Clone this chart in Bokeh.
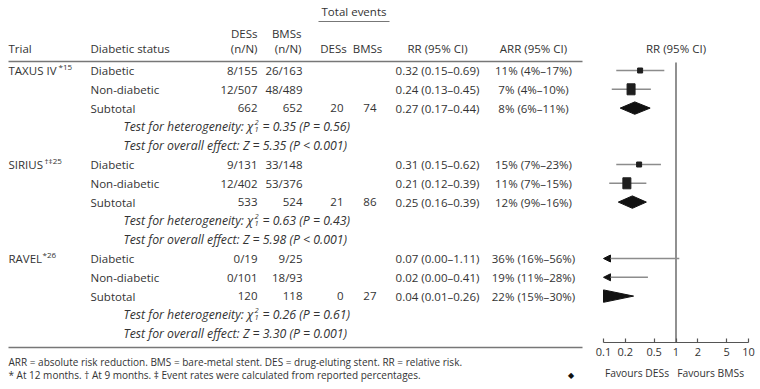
from bokeh.plotting import figure
from bokeh.layouts import row
from bokeh.models import Range1d, ColumnDataSource, FixedTicker, CustomJSTickFormatter, Arrow, NormalHead
from bokeh.embed import file_html
from bokeh.resources import INLINE
from bokeh.core.properties import value
import math

# ---------------- data ----------------
trials = ["TAXUS IV", "SIRIUS", "RAVEL"]
trial_refs = ["*15", "\u2020\u202125", "*26"]
status = ["Diabetic", "Non-diabetic", "Subtotal"]
des_nN = ["8/155", "12/507", "662", "9/131", "12/402", "533", "0/19", "0/101", "120"]
bms_nN = ["26/163", "48/489", "652", "33/148", "53/376", "524", "9/25", "18/93", "118"]
des_events = ["20", "21", "0"]
bms_events = ["74", "86", "27"]
rr = [0.32, 0.24, 0.27, 0.31, 0.21, 0.25, 0.07, 0.02, 0.04]
rr_lo = [0.15, 0.13, 0.17, 0.15, 0.12, 0.16, 0.00, 0.00, 0.01]
rr_hi = [0.69, 0.45, 0.44, 0.62, 0.39, 0.39, 1.11, 0.41, 0.26]
arr = [11, 7, 8, 15, 11, 12, 36, 19, 22]
arr_lo = [4, 4, 6, 7, 7, 9, 16, 11, 15]
arr_hi = [17, 10, 11, 23, 15, 16, 56, 28, 30]
chi2 = ["0.35", "0.63", "0.26"]
p_het = ["0.56", "0.43", "0.61"]
z_val = ["5.35", "5.98", "3.30"]
p_overall = ["< 0.001", "< 0.001", "= 0.001"]
ticks = [0.1, 0.2, 0.5, 1, 2, 5, 10]
favours = "Favours DESs\u00a0\u00a0\u00a0Favours BMSs"
footnote1 = "ARR = absolute risk reduction. BMS = bare-metal stent. DES = drug-eluting stent. RR = relative risk."
footnote2 = "* At 12 months. \u2020 At 9 months. \u2021 Event rates were calculated from reported percentages."

# ---------------- layout constants (page pixels) ----------------
FONT = "Open Sans"
FS = "11.5px"
FS_IT = "12.3px"
TXT = "#333333"
R0, DY = 70.0, 18.8          # page y of first data row, row pitch
def r(py):                   # page pixel y -> row units
    return (py - R0) / DY

H = 388
W_TAB = 588
AX_Y = 342
AX_X0, AX_X1 = 603, 748      # page x of the first / last tick
FP_L, FP_R = 590, 758        # page x of forest frame edges

tab = figure(width=W_TAB, height=H, x_range=Range1d(0, W_TAB),
             y_range=Range1d(r(H), r(0)), output_backend="svg",
             toolbar_location=None, min_border=0, outline_line_color=None)
tab.axis.visible = False
tab.grid.visible = False

def txt(fig, xs, ys, texts, align="left", size=FS, style="normal", color=TXT, yoff=0):
    fig.text(x=xs, y=ys, text=texts, text_align=align, text_baseline="middle",
             text_font=value(FONT), text_font_size=size, text_font_style=style,
             text_color=color, y_offset=yoff)

RULE = "#777777"
# header
txt(tab, [353.5], [r(11)], ["Total events"], align="center")
tab.segment(x0=[318], y0=[r(21)], x1=[389], y1=[r(21)], line_color=RULE, line_width=1.2)
txt(tab, [257, 301], [r(33)] * 2, ["DESs", "BMSs"], align="right")
txt(tab, [257, 301], [r(48)] * 2, ["(n/N)", "(n/N)"], align="right")
txt(tab, [8, 90], [r(48)] * 2, ["Trial", "Diabetic status"])
txt(tab, [333, 367], [r(48)] * 2, ["DESs", "BMSs"], align="center")
txt(tab, [437, 533], [r(48)] * 2, ["RR (95% CI)", "ARR (95% CI)"], align="center")
tab.segment(x0=[8], y0=[r(61)], x1=[582], y1=[r(61)], line_color=RULE, line_width=1.4)

# rows
sup_x = [58, 44, 42]
for t in range(3):
    base = 5 * t
    txt(tab, [8], [base], [trials[t]])
    txt(tab, [sup_x[t]], [base], [trial_refs[t]], size="8px", yoff=-4)
    for s in range(3):
        i = 3 * t + s
        y = base + s
        txt(tab, [90], [y], [status[s]])
        txt(tab, [257], [y], [des_nN[i]], align="right")
        txt(tab, [302], [y], [bms_nN[i]], align="right")
        txt(tab, [437], [y], [f"{rr[i]:.2f} ({rr_lo[i]:.2f}\u2013{rr_hi[i]:.2f})"], align="center")
        txt(tab, [533], [y], [f"{arr[i]}% ({arr_lo[i]}%\u2013{arr_hi[i]}%)"], align="center")
    txt(tab, [343], [base + 2], [des_events[t]], align="right")
    txt(tab, [376], [base + 2], [bms_events[t]], align="right")
    txt(tab, [123], [base + 3], ["Test for heterogeneity: \u03c7"], size=FS_IT, style="italic")
    txt(tab, [254], [base + 3], ["2"], size="7.5px", style="italic", yoff=-4)
    txt(tab, [254], [base + 3], ["1"], size="7.5px", style="italic", yoff=3)
    txt(tab, [262], [base + 3], [f"= {chi2[t]} (P = {p_het[t]})"], size=FS_IT, style="italic")
    txt(tab, [123], [base + 4], [f"Test for overall effect: Z = {z_val[t]} (P {p_overall[t]})"],
        size=FS_IT, style="italic")

tab.segment(x0=[8], y0=[r(347)], x1=[582], y1=[r(347)], line_color=RULE, line_width=1.4)
txt(tab, [8], [r(361)], [footnote1], size="10px")
txt(tab, [8], [r(374)], [footnote2], size="10px")
txt(tab, [570], [r(374)], ["\u25c6"], size="8px", align="center", color="#111111")

# ---------------- forest plot ----------------
lmin, lmax = math.log10(ticks[0]), math.log10(ticks[-1])
per_px = (lmax - lmin) / (AX_X1 - AX_X0)
x_start = 10 ** (lmin - (AX_X0 - FP_L) * per_px)
x_end = 10 ** (lmax + (FP_R - AX_X1) * per_px)

fp = figure(width=760 - W_TAB - 2, height=H, x_axis_type="log",
            x_range=Range1d(x_start, x_end), y_range=Range1d(r(H), r(0)),
            output_backend="svg", toolbar_location=None, outline_line_color=None,
            min_border_left=FP_L - W_TAB, min_border_right=0, min_border_top=0,
            min_border_bottom=0, y_axis_location=None)
fp.grid.visible = False
ax = fp.xaxis[0]
ax.fixed_location = r(AX_Y)
ax.ticker = FixedTicker(ticks=ticks)
ax.formatter = CustomJSTickFormatter(code="return tick.toString();")
ax.major_tick_in = 4
ax.major_tick_out = 0
ax.minor_tick_line_color = None
ax.axis_line_color = None
ax.major_tick_line_color = "#555555"
ax.major_tick_line_width = 1.2
ax.major_label_text_font = FONT
ax.major_label_text_font_size = "11px"
ax.major_label_text_color = TXT
ax.major_label_standoff = 5
ax.axis_label = favours
ax.axis_label_text_font = FONT
ax.axis_label_text_font_size = "10.3px"
ax.axis_label_text_font_style = "normal"
ax.axis_label_text_color = TXT
ax.axis_label_standoff = 7

# axis line spanning exactly the tick range
fp.segment(x0=[ticks[0]], y0=[r(AX_Y)], x1=[ticks[-1]], y1=[r(AX_Y)],
           line_color="#555555", line_width=1.2)

txt(fp, [1], [r(48)], ["RR (95% CI)"], align="center")
fp.segment(x0=[1], y0=[r(62)], x1=[1], y1=[r(AX_Y)], line_color="#555555", line_width=1.3)

xmin = ticks[0]
HH = 0.33
seg = dict(x0=[], x1=[], y=[])
box = dict(x=[], y=[], w=[], h=[])
arw = dict(xs=[], xe=[], y=[])
dia_x, dia_y = [], []
box_w = [5, 8]
box_h = [5, 11]
for t in range(3):
    for s in range(3):
        i = 3 * t + s
        y = 5 * t + s
        if s < 2:
            if rr[i] >= xmin:
                seg["x0"].append(rr_lo[i]); seg["x1"].append(rr_hi[i]); seg["y"].append(y)
                box["x"].append(rr[i]); box["y"].append(y)
                box["w"].append(box_w[s]); box["h"].append(box_h[s])
            else:
                arw["xs"].append(rr_hi[i]); arw["xe"].append(xmin); arw["y"].append(y)
        else:
            if rr_lo[i] >= xmin:
                dia_x.append([rr_lo[i], rr[i], rr_hi[i], rr[i]])
                dia_y.append([y, y - HH, y, y + HH])
            else:
                dia_x.append([xmin, rr_hi[i], xmin])
                dia_y.append([y - HH, y, y + HH])

fp.segment(x0="x0", x1="x1", y0="y", y1="y", source=ColumnDataSource(seg),
           line_color="#8c8c8c", line_width=1.6)
fp.rect(x="x", y="y", width="w", height="h", width_units="screen", height_units="screen",
        source=ColumnDataSource(box), fill_color="#1e1e1e", line_color="#1e1e1e")
fp.patches(xs=dia_x, ys=dia_y, fill_color="#111111", line_color="#111111")
fp.add_layout(Arrow(end=NormalHead(size=7, fill_color="#111111", line_color="#111111"),
                    x_start="xs", y_start="y", x_end="xe", y_end="y",
                    source=ColumnDataSource(arw), line_color="#8c8c8c", line_width=1.6))

layout = row(tab, fp, spacing=0)
open("out.html", "w").write(file_html(layout, INLINE))
